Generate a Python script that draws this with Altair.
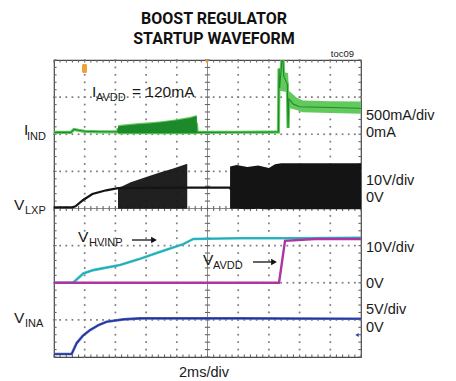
import altair as alt
import numpy as np
import pandas as pd

# ---------------------------------------------------------------
# Scope geometry: 10 horizontal divisions at 2 ms/div, 8 vertical
# ---------------------------------------------------------------
T_SPAN = 20.0          # ms
N_YDIV = 8
PLOT_W, PLOT_H = 307, 297
PAD_L, PAD_T = 54, 60

# channel ground position (divisions from the bottom) and units per division
IND_ZERO, IND_PER_DIV = 6.05, 500.0    # mA/div
LXP_ZERO, LXP_PER_DIV = 4.03, 10.0     # V/div
HV_ZERO, HV_PER_DIV = 2.0, 10.0        # V/div (V_HVINP and V_AVDD)
INA_ZERO, INA_PER_DIV = 0.08, 5.0      # V/div

# ---------------- I_IND, inductor current (mA) ----------------
IND_T = [0.0, 1.1, 1.3, 1.6, 2.0, 3.0, 4.15, 4.17, 9.28, 9.32, 12.0, 14.0, 14.62,
         14.66, 14.70, 14.90, 14.96, 15.20, 15.25, 15.30, 15.60, 16.00, 18.00, 20.0]
IND_MA = [0, 0, 40, 28, 15, 8, 8, 40, 110, 0, 2, 3, 5,
          860, 600, 1100, 760, 650, 60, 450, 380, 345, 335, 325]

# ripple envelope while the converter is switching (mA)
IND_RIP1_T = [4.17, 4.5, 5.5, 6.25, 7.0, 7.9, 8.9, 9.25, 9.30]
IND_RIP1_LO = [-25, -25, -25, -25, -25, -25, -25, -25, -25]
IND_RIP1_HI = [95, 105, 125, 135, 150, 175, 210, 232, 232]

IND_RIP2_T = [14.72, 15.25, 15.30, 15.80, 16.20, 18.0, 20.0]
IND_RIP2_LO = [560, 540, 330, 300, 270, 260, 250]
IND_RIP2_HI = [820, 800, 560, 470, 430, 420, 415]

# ---------------- V_LXP, switch node (V) ----------------
LXP_T = [0.0, 1.2, 1.4, 1.9, 2.5, 3.4, 4.17, 8.65, 8.70, 11.45, 11.50, 20.0]
LXP_V = [0.0, 0.0, 0.3, 2.0, 3.6, 4.6, 5.2, 5.3, 5.3, 5.3, 5.0, 5.0]

LXP_SW1_T = [4.17, 4.41, 5.0, 6.25, 7.0, 7.77, 8.63, 8.68]
LXP_SW1_LO = [-0.4, -0.4, -0.4, -0.4, -0.4, -0.4, -0.4, -0.4]
LXP_SW1_HI = [5.4, 5.6, 6.8, 8.5, 9.5, 10.5, 11.7, 11.7]

LXP_SW2_T = [11.47, 11.9, 12.6, 13.3, 14.0, 14.4, 14.8, 20.0]
LXP_SW2_LO = [-0.4, -0.4, -0.5, -0.4, -0.6, -0.4, -0.5, -0.5]
LXP_SW2_HI = [11.0, 11.4, 10.9, 11.3, 10.6, 11.6, 11.9, 11.9]

# ---------------- V_HVINP (V) ----------------
HVINP_T = [0.0, 1.24, 1.91, 2.56, 4.3, 5.5, 6.69, 8.42, 9.08, 12.0, 16.0, 20.0]
HVINP_V = [0.0, 0.0, 2.5, 3.4, 4.8, 6.3, 8.0, 10.4, 11.8, 12.0, 12.0, 12.1]

# ---------------- V_AVDD (V) ----------------
AVDD_T = [0.0, 14.66, 15.05, 17.0, 20.0]
AVDD_V = [0.0, 0.0, 11.3, 11.8, 11.8]

# ---------------- V_INA (V) ----------------
INA_T = [0.0, 1.15, 1.48, 1.9, 2.35, 2.9, 3.43, 4.52, 5.6, 12.0, 20.0]
INA_V = [0.0, 0.0, 1.48, 2.5, 3.23, 3.9, 4.35, 4.67, 4.8, 4.8, 4.75]


def to_div(values, zero, per_div):
    return [zero + v / per_div for v in values]


def trace(t, v, zero, per_div):
    return pd.DataFrame({"t": t, "d": to_div(v, zero, per_div)})


def band(t, lo, hi, zero, per_div):
    return pd.DataFrame({"t": t, "lo": to_div(lo, zero, per_div),
                         "hi": to_div(hi, zero, per_div)})


XS = alt.Scale(domain=[0, T_SPAN], nice=False, zero=False)
YS = alt.Scale(domain=[0, N_YDIV], nice=False, zero=False)
X = alt.X("t:Q", scale=XS, axis=None)
Y = alt.Y("d:Q", scale=YS, axis=None)


def line_layer(df, color, width, opacity=1.0):
    return alt.Chart(df).mark_line(color=color, strokeWidth=width, opacity=opacity,
                                   clip=True, interpolate="linear").encode(
        x=X, y=Y, order="t:Q")


def band_layer(df, color, opacity=1.0):
    return alt.Chart(df).mark_area(color=color, opacity=opacity, clip=True).encode(
        x=X, y=alt.Y("lo:Q", scale=YS, axis=None), y2="hi:Q")


# ---------------- graticule ----------------
# dotted division lines: one dot every fifth of a division
dot_t = [round(0.4 * i, 3) for i in range(51)]
dot_d = [round(0.2 * i, 3) for i in range(41)]
rows = []
for lvl in (1.0, 2.0, 3.0, 5.0, 6.0, 7.0):
    rows += [{"t": t, "d": lvl} for t in dot_t]
for lvl in (2.0, 4.0, 6.0, 8.0, 12.0, 14.0, 16.0, 18.0):
    rows += [{"t": lvl, "d": d} for d in dot_d]
grid = alt.Chart(alt.Data(values=rows)).mark_square(
    size=3, color="#7c7c7c", opacity=1, filled=True).encode(x=X, y=Y)

center_v = alt.Chart(pd.DataFrame({"t": [10.0]})).mark_rule(color="#8c8c8c", strokeWidth=1).encode(x=X)
center_h = alt.Chart(pd.DataFrame({"d": [4.0]})).mark_rule(color="#8c8c8c", strokeWidth=1).encode(y=Y)

# small tick marks on the centre cross and along the frame
TK_D, TK_T = 0.07, 0.17
vt = []
for lo, hi in ((4.0 - TK_D, 4.0 + TK_D), (0.0, TK_D), (8.0 - TK_D, 8.0)):
    vt += [{"t": t, "d": lo, "d2": hi} for t in dot_t]
ht = []
for lo, hi in ((10.0 - TK_T, 10.0 + TK_T), (0.0, TK_T), (20.0 - TK_T, 20.0)):
    ht += [{"t": lo, "t2": hi, "d": d} for d in dot_d]
ticks_v = alt.Chart(alt.Data(values=vt)).mark_rule(color="#666666", strokeWidth=1.1).encode(
    x=X, y=Y, y2="d2:Q")
ticks_h = alt.Chart(alt.Data(values=ht)).mark_rule(color="#666666", strokeWidth=1.1).encode(
    x=X, x2="t2:Q", y=Y)

# ---------------- traces ----------------
GREEN_LT, GREEN_DK = "#62c95c", "#1c8a2b"
layers = [grid, center_v, center_h, ticks_v, ticks_h]

ind = trace(IND_T, IND_MA, IND_ZERO, IND_PER_DIV)
layers += [
    line_layer(ind, GREEN_LT, 3.2),
    band_layer(band(IND_RIP1_T, IND_RIP1_LO, IND_RIP1_HI, IND_ZERO, IND_PER_DIV), GREEN_LT),
    band_layer(band(IND_RIP1_T, [v + 12 for v in IND_RIP1_LO], [v - 15 for v in IND_RIP1_HI],
                    IND_ZERO, IND_PER_DIV), GREEN_DK),
    band_layer(band(IND_RIP2_T, IND_RIP2_LO, IND_RIP2_HI, IND_ZERO, IND_PER_DIV), GREEN_LT),
    line_layer(ind, GREEN_DK, 1.1),
]

BLACK = "#141414"
layers += [
    line_layer(trace(LXP_T, LXP_V, LXP_ZERO, LXP_PER_DIV), BLACK, 2.2),
    band_layer(band(LXP_SW1_T, LXP_SW1_LO, LXP_SW1_HI, LXP_ZERO, LXP_PER_DIV), BLACK, 0.95),
    band_layer(band(LXP_SW2_T, LXP_SW2_LO, LXP_SW2_HI, LXP_ZERO, LXP_PER_DIV), BLACK),
]

layers += [
    line_layer(trace(HVINP_T, HVINP_V, HV_ZERO, HV_PER_DIV), "#35bfc9", 2.6),
    line_layer(trace(HVINP_T, HVINP_V, HV_ZERO, HV_PER_DIV), "#1f9fab", 0.8),
    line_layer(trace(AVDD_T, AVDD_V, HV_ZERO, HV_PER_DIV), "#ad35a2", 2.4),
    line_layer(trace(INA_T, INA_V, INA_ZERO, INA_PER_DIV), "#4a5fc0", 2.6),
    line_layer(trace(INA_T, INA_V, INA_ZERO, INA_PER_DIV), "#24338f", 1.2),
]

# ---------------- annotations (page pixel positions) ----------------
FONT = "Liberation Sans"


def txt(s, px, py, size, align="left", font=FONT, weight="normal", color="#1a1a1a"):
    return alt.Chart(pd.DataFrame({"s": [s]})).mark_text(
        text=s, font=font, fontSize=size, fontWeight=weight, align=align,
        baseline="alphabetic", color=color).encode(
        x=alt.value(px - PAD_L), y=alt.value(py - PAD_T))


def sym(px, py, shape, size, color):
    return alt.Chart(pd.DataFrame({"s": [0]})).mark_point(
        shape=shape, size=size, filled=True, color=color, opacity=1).encode(
        x=alt.value(px - PAD_L), y=alt.value(py - PAD_T))


def seg(px1, px2, py, color="#111111"):
    return alt.Chart(pd.DataFrame({"s": [0]})).mark_rule(color=color, strokeWidth=1.3).encode(
        x=alt.value(px1 - PAD_L), x2=alt.value(px2 - PAD_L), y=alt.value(py - PAD_T))


TITLE_FONT = "Roboto"
layers += [
    txt("BOOST REGULATOR", 214, 23.5, 16, "center", TITLE_FONT, "bold", "#111111"),
    txt("STARTUP WAVEFORM", 214, 43.5, 16, "center", TITLE_FONT, "bold", "#111111"),
    txt("toc09", 354, 57, 9.5, "right"),
    txt("I", 92, 97, 15.5), txt("AVDD", 96, 101, 11), txt("= 120mA", 132, 97, 15.5),
    txt("I", 24, 135, 15.5), txt("IND", 27, 140, 11),
    txt("V", 14, 210, 15.5), txt("LXP", 25, 214, 11),
    txt("V", 14, 323, 15.5), txt("INA", 25, 327, 11),
    txt("V", 78, 242, 15.5), txt("HVINP", 89, 246, 11),
    txt("V", 203, 265, 15.5), txt("AVDD", 213, 269, 11),
    txt("500mA/div", 366, 119.5, 14.5), txt("0mA", 366, 137, 14.5),
    txt("10V/div", 366, 185, 14.5), txt("0V", 366, 202, 14.5),
    txt("10V/div", 366, 252, 14.5), txt("0V", 366, 288, 14.5),
    txt("5V/div", 366, 314, 14.5), txt("0V", 366, 332, 14.5),
    txt("2ms/div", 204, 377, 14.5, "center"),
    seg(132, 152, 240), sym(154, 240, "triangle-right", 45, "#111111"),
    seg(253, 272, 262), sym(274, 262, "triangle-right", 45, "#111111"),
    sym(207, 62, "triangle-down", 18, "#f0a030"),
    sym(357, 335, "triangle-left", 16, "#3045b0"),
    alt.Chart(pd.DataFrame({"s": [0]})).mark_rect(
        color="#f2a03a", cornerRadius=1.5).encode(
        x=alt.value(82 - PAD_L), x2=alt.value(87 - PAD_L),
        y=alt.value(64 - PAD_T), y2=alt.value(73 - PAD_T)),
]

chart = alt.layer(*layers).properties(
    width=PLOT_W, height=PLOT_H,
    autosize=alt.AutoSizeParams(type="none"),
    padding={"left": PAD_L, "top": PAD_T, "right": 456 - PAD_L - PLOT_W,
             "bottom": 381 - PAD_T - PLOT_H},
    background="white",
).configure_view(stroke="#4a4a4a", strokeWidth=1.2)

chart.save("out.html", embed_options={"renderer": "svg", "actions": False})
